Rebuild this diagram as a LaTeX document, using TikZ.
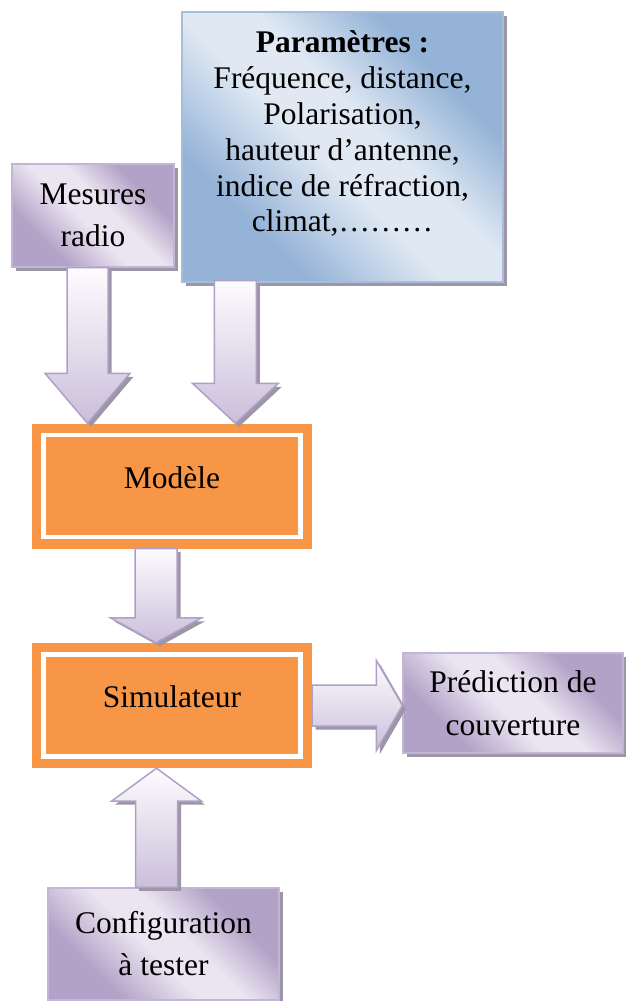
\documentclass[tikz,border=0pt]{standalone}
\usepackage{fontspec}
\setmainfont{Liberation Serif}
\usetikzlibrary{calc,shadows}

\definecolor{purpDark}{HTML}{B3A2C7}
\definecolor{purpLight}{HTML}{EAE5F1}
\definecolor{purpEdge}{HTML}{C3B5D6}
\definecolor{blueDark}{HTML}{95B3D7}
\definecolor{blueLight}{HTML}{DFE8F3}
\definecolor{blueEdge}{HTML}{A6BDDC}
\definecolor{orng}{HTML}{F79646}
\definecolor{shadowc}{HTML}{9C96A6}
\definecolor{arrTop}{HTML}{FDFCFE}
\definecolor{arrBot}{HTML}{CABFDB}
\definecolor{arrEdge}{HTML}{B1A0C6}

% diagonal sheen: dark corners, light band through the middle
\pgfdeclarehorizontalshading{purplesheen}{100bp}{color(0bp)=(purpDark); color(30bp)=(purpDark); color(46bp)=(purpLight); color(56bp)=(purpLight); color(70bp)=(purpDark); color(100bp)=(purpDark)}
\pgfdeclarehorizontalshading{bluesheen}{100bp}{color(0bp)=(blueDark); color(30bp)=(blueDark); color(46bp)=(blueLight); color(56bp)=(blueLight); color(70bp)=(blueDark); color(100bp)=(blueDark)}

\tikzset{
  boxshadow/.style={drop shadow={shadow xshift=3.5pt, shadow yshift=-3.5pt, fill=shadowc, opacity=1}},
  sheenbox/.style={shade, shading=purplesheen, shading angle=45, draw=purpEdge, line width=1.2pt,
    boxshadow, align=center, inner sep=0pt, font=\fontsize{31.5}{42}\selectfont},
  paramsbox/.style={shade, shading=bluesheen, shading angle=45, draw=blueEdge, line width=1.2pt,
    boxshadow, inner sep=0pt},
  orangebox/.style={fill=orng, minimum width=280pt, minimum height=125pt, inner sep=0pt,
    text depth=17pt, font=\fontsize{31.5}{38}\selectfont,
    path picture={\draw[white, line width=4.5pt]
      ($(path picture bounding box.south west)+(11.5,-11.5)$) rectangle
      ($(path picture bounding box.north east)+(-11.5,11.5)$);}},
  bigarrow/.style={top color=arrTop, bottom color=arrBot, draw=arrEdge, line width=1.5pt,
    line join=miter, drop shadow={shadow xshift=3.5pt, shadow yshift=-3.5pt, fill=shadowc, opacity=1}}
}

% block arrow from #1 (tail centre) to #2 (tip): shaft half-width #3, head half-width #4, head length #5
\newcommand\flowarrow[5]{%
  \coordinate (fa-base) at ($(#2)!#5!(#1)$);
  \path[bigarrow] ($(#1)!#3!90:(#2)$) -- ($(fa-base)!#3!90:(#2)$) -- ($(fa-base)!#4!90:(#2)$)
    -- (#2) -- ($(fa-base)!#4!-90:(#2)$) -- ($(fa-base)!#3!-90:(#2)$) -- ($(#1)!#3!-90:(#2)$) -- cycle;
}

\begin{document}
\begin{tikzpicture}[x=1pt,y=-1pt]
\useasboundingbox (0,0) rectangle (626,1001);

% input boxes
\node[sheenbox, minimum width=162pt, minimum height=103pt] (mes) at (93,215.5) {Mesures\\radio};
\node[paramsbox, minimum width=321pt, minimum height=270pt] (par) at (342.5,147) {};
\node[anchor=north, align=center, inner sep=0pt, font=\fontsize{31.5}{35.8}\selectfont]
  (partxt) at ($(par.north)+(0,19.5)$)
  {\textbf{Paramètres :}\\Fréquence, distance,\\Polarisation,\\hauteur d’antenne,\\indice de réfraction,\\climat,………};

% processing blocks
\node[orangebox] (mod) at (172,486) {Modèle};
\node[orangebox] (sim) at (172,705.5) {Simulateur};

% output and configuration boxes
\node[sheenbox, minimum width=220pt, minimum height=100pt, font=\fontsize{31.5}{43}\selectfont] (pred) at (513,703) {Prédiction de\\couverture};
\node[sheenbox, minimum width=231pt, minimum height=112pt] (conf) at (163.5,944) {Configuration\\à tester};

% arrow end points
\coordinate (mes-out) at ($(mes.south)+(-5.5,0)$);
\coordinate (mes-in) at (mes-out |- mod.north);
\coordinate (par-out) at ($(par.south west)+(54,-2)$);
\coordinate (par-in) at (par-out |- mod.north);
\coordinate (mod-out) at ($(mod.south)+(-16,0)$);
\coordinate (mod-in) at (mod-out |- sim.north);
\coordinate (sim-out) at (sim.east);
\coordinate (sim-in) at (sim-out -| pred.west);
\coordinate (conf-out) at ($(conf.north)+(-7,0)$);
\coordinate (conf-in) at (conf-out |- sim.south);

% block arrows
\flowarrow{mes-out}{mes-in}{20.5pt}{42.5pt}{50pt}
\flowarrow{par-out}{par-in}{21pt}{43pt}{40pt}
\flowarrow{mod-out}{mod-in}{21pt}{45.5pt}{25pt}
\flowarrow{sim-out}{sim-in}{20.5pt}{45pt}{26pt}
\flowarrow{conf-out}{conf-in}{21pt}{45pt}{33pt}
\end{tikzpicture}
\end{document}
